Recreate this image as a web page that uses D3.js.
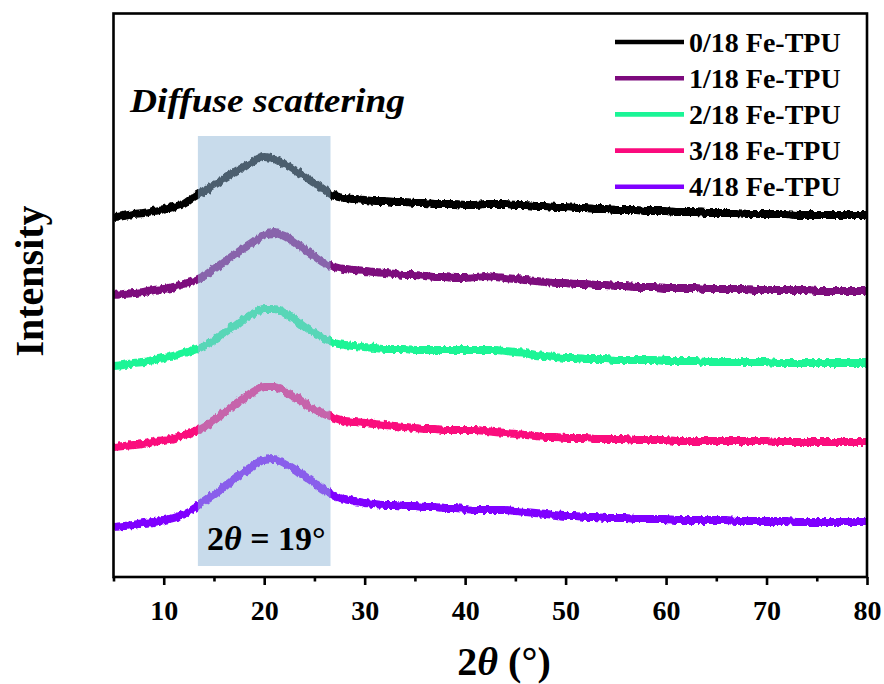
<!DOCTYPE html>
<html>
<head>
<meta charset="utf-8">
<script src="https://cdn.jsdelivr.net/npm/d3@7/dist/d3.min.js"></script>
<style>
  html, body { margin: 0; padding: 0; background: #fff; }
  svg { display: block; }
  text { font-family: "Liberation Serif", "Times New Roman", serif; font-weight: bold; fill: #000; }
</style>
</head>
<body>
<svg id="chart" width="884" height="684"></svg>
<script>
// 2θ grid (degrees), one sample per degree
const twoTheta = d3.range(5, 81);

// Offset XRD intensities (a.u.), stacked so the curves do not overlap
const fe0 = [360,361,363,364,366,368,370,373,380,386,392,398,404,410,416,420,418,413,407,401,394,387,381,379,378,377,376,376,375,375,374,374,373,373,373,372,372,373,373,373,372,372,371,371,370,370,369,369,368,368,367,367,367,366,366,366,365,365,365,364,364,364,364,363,363,363,363,363,362,362,362,362,362,362,362,362];
const fe1 = [282,283,284,285,287,288,290,293,296,301,308,315,322,329,336,342,344,341,335,328,321,314,310,308,307,306,305,304,303,302,302,301,300,300,299,299,300,301,300,299,298,297,296,295,294,294,293,293,292,292,291,291,290,290,290,289,289,289,289,288,288,288,288,288,287,287,287,287,287,287,286,286,286,286,286,286];
const fe2 = [211,212,214,215,217,219,221,224,227,231,237,244,251,258,264,268,268,264,258,251,244,238,234,232,231,230,229,228,228,228,227,227,227,227,227,227,227,227,227,226,225,224,222,221,220,219,219,218,218,218,217,217,217,217,217,216,216,216,216,215,215,215,215,215,215,215,214,214,214,214,214,214,214,214,214,214];
const fe3 = [130,131,132,133,135,137,139,142,145,150,157,164,172,179,186,190,190,186,180,174,168,163,159,156,155,154,153,152,151,150,149,148,148,147,147,147,147,146,145,144,143,142,141,140,140,139,139,139,138,138,138,138,137,137,137,137,136,136,136,136,136,136,136,136,136,136,135,135,135,135,135,135,135,135,135,135];
const fe4 = [50,51,52,54,55,57,59,63,69,76,83,90,98,105,112,117,118,114,108,101,94,87,81,78,76,74,73,72,72,71,71,70,70,69,69,68,67,67,67,67,66,65,64,63,62,61,61,60,60,59,59,59,58,58,58,58,57,57,57,57,57,57,56,56,56,56,56,56,55,55,55,55,55,55,55,55];

const seriesNames = ["0/18 Fe-TPU", "1/18 Fe-TPU", "2/18 Fe-TPU", "3/18 Fe-TPU", "4/18 Fe-TPU"];
const seriesValues = [fe0, fe1, fe2, fe3, fe4];
const seriesColors = ["#000000", "#7D0A7D", "#1AF596", "#FA0A7D", "#7F00FF"];

const xTicks = [10, 20, 30, 40, 50, 60, 70, 80];
const xMinorTicks = [5, 15, 25, 35, 45, 55, 65, 75];

// Highlighted amorphous-halo band (2θ range) and its labels
const haloBand = [13.4, 26.6];
const haloLabel = "= 19°";
const haloTitle = "Diffuse scattering";

// ---- layout ----
const svg = d3.select("#chart");
const plot = { left: 113.5, right: 867, top: 13.5, bottom: 577 };

const x = d3.scaleLinear().domain([5, 80]).range([plot.left, plot.right]);
const y = d3.scaleLinear().domain([0, 563.5]).range([plot.bottom, plot.top]);

const defs = svg.append("defs");
defs.append("clipPath").attr("id", "plotClip")
  .append("rect")
  .attr("x", plot.left).attr("y", plot.top)
  .attr("width", plot.right - plot.left).attr("height", plot.bottom - plot.top);

// counting-noise texture for the measured traces
const noise = defs.append("filter").attr("id", "countNoise")
  .attr("x", "-2%").attr("y", "-10%").attr("width", "104%").attr("height", "120%");
noise.append("feTurbulence")
  .attr("type", "fractalNoise").attr("baseFrequency", "0.3 0.06")
  .attr("numOctaves", 2).attr("seed", 3).attr("result", "turb");
noise.append("feDisplacementMap")
  .attr("in", "SourceGraphic").attr("in2", "turb")
  .attr("scale", 5).attr("xChannelSelector", "R").attr("yChannelSelector", "G");

// ---- traces ----
const line = d3.line()
  .x((d, i) => x(twoTheta[i]))
  .y(d => y(d))
  .curve(d3.curveMonotoneX);

const traces = svg.append("g").attr("clip-path", "url(#plotClip)")
  .append("g").attr("filter", "url(#countNoise)");

traces.selectAll("path")
  .data(seriesValues)
  .join("path")
  .attr("d", line)
  .attr("fill", "none")
  .attr("stroke", (d, i) => seriesColors[i])
  .attr("stroke-width", 8)
  .attr("stroke-linejoin", "round")
  .attr("stroke-linecap", "round");

// ---- translucent halo band ----
svg.append("rect")
  .attr("x", x(haloBand[0]))
  .attr("y", y(441))
  .attr("width", x(haloBand[1]) - x(haloBand[0]))
  .attr("height", y(11) - y(441))
  .attr("fill", "rgb(147,184,216)")
  .attr("fill-opacity", 0.51);

// ---- frame and x axis ----
svg.append("rect")
  .attr("x", plot.left).attr("y", plot.top)
  .attr("width", plot.right - plot.left).attr("height", plot.bottom - plot.top)
  .attr("fill", "none").attr("stroke", "#000").attr("stroke-width", 2.6);

const xAxis = svg.append("g").attr("transform", `translate(0,${plot.bottom})`);
xAxis.call(d3.axisBottom(x).tickValues(xTicks).tickSize(8).tickPadding(15).tickFormat(d3.format("d")));
xAxis.select(".domain").remove();
xAxis.selectAll(".tick line").attr("stroke", "#000").attr("stroke-width", 2.6);
xAxis.selectAll(".tick text")
  .attr("font-family", "Liberation Serif, serif")
  .attr("font-weight", "bold")
  .attr("font-size", 28)
  .attr("fill", "#000");

const xMinor = svg.append("g").attr("transform", `translate(0,${plot.bottom})`);
xMinor.call(d3.axisBottom(x).tickValues(xMinorTicks).tickSize(4.5).tickFormat(""));
xMinor.select(".domain").remove();
xMinor.selectAll(".tick line").attr("stroke", "#000").attr("stroke-width", 2.6);

// axis titles
const xTitle = svg.append("text")
  .attr("x", 504).attr("y", 675)
  .attr("text-anchor", "middle")
  .attr("font-size", 40);
xTitle.append("tspan").text("2");
xTitle.append("tspan").attr("font-style", "italic").text("θ");
xTitle.append("tspan").text(" (°)");

svg.append("text")
  .attr("transform", "translate(43,281) rotate(-90)")
  .attr("text-anchor", "middle")
  .attr("font-size", 40)
  .text("Intensity");

// ---- annotations ----
svg.append("text")
  .attr("x", 130).attr("y", 112)
  .attr("font-size", 33)
  .attr("font-style", "italic")
  .attr("textLength", 275).attr("lengthAdjust", "spacingAndGlyphs")
  .text(haloTitle);

const haloText = svg.append("text")
  .attr("x", 207).attr("y", 550)
  .attr("font-size", 34);
haloText.append("tspan").text("2");
haloText.append("tspan").attr("font-style", "italic").text("θ");
haloText.append("tspan").text(" " + haloLabel);

// ---- legend ----
const legend = svg.append("g");
const rows = legend.selectAll("g")
  .data(seriesNames)
  .join("g")
  .attr("transform", (d, i) => `translate(0,${42 + i * 36.2})`);
rows.append("line")
  .attr("x1", 615).attr("x2", 684)
  .attr("y1", 0).attr("y2", 0)
  .attr("stroke", (d, i) => seriesColors[i])
  .attr("stroke-width", 4.6);
rows.append("text")
  .attr("x", 689).attr("y", 9.5)
  .attr("font-size", 28)
  .text(d => d);
</script>
</body>
</html>
